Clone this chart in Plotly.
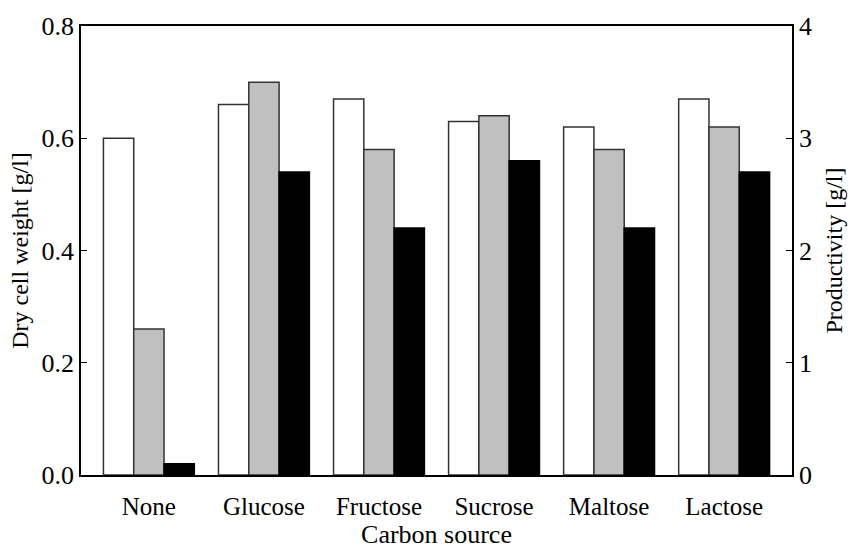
import plotly.graph_objects as go

# Carbon sources tested
categories = ["None", "Glucose", "Fructose", "Sucrose", "Maltose", "Lactose"]

# Dry cell weight [g/l] (left axis)
dry_cell_weight = [0.60, 0.66, 0.67, 0.63, 0.62, 0.67]
# Productivity [g/l] (right axis), two measurements
productivity_a = [1.3, 3.5, 2.9, 3.2, 2.9, 3.1]
productivity_b = [0.1, 2.7, 2.2, 2.8, 2.2, 2.7]

font_family = "Liberation Serif"
edge = "#333333"

fig = go.Figure()
fig.add_trace(go.Bar(x=categories, y=dry_cell_weight, name="Dry cell weight",
                     marker=dict(color="white", line=dict(color=edge, width=1.5)),
                     offsetgroup="a", yaxis="y"))
fig.add_trace(go.Bar(x=categories, y=productivity_a, name="Productivity A",
                     marker=dict(color="#c0c0c0", line=dict(color=edge, width=1.5)),
                     offsetgroup="b", yaxis="y2"))
fig.add_trace(go.Bar(x=categories, y=productivity_b, name="Productivity B",
                     marker=dict(color="black", line=dict(color="black", width=1.5)),
                     offsetgroup="c", yaxis="y2"))

tickfont = dict(family=font_family, size=26, color="black")
titlefont = dict(family=font_family, size=24, color="black")
fig.update_layout(
    width=860, height=552,
    margin=dict(l=81, r=68, t=16, b=77),
    paper_bgcolor="white", plot_bgcolor="white",
    barmode="group", bargap=0.21, bargroupgap=0,
    showlegend=False,
    font=dict(family=font_family, color="black"),
    xaxis=dict(
        range=[-0.59, 5.59], showgrid=False, ticks="",
        tickfont=dict(family=font_family, size=25, color="black"),
        ticklabelstandoff=8,
        title=dict(text="Carbon source", font=dict(family=font_family, size=26, color="black"),
                   standoff=1),
        showline=True, linecolor="black", linewidth=2, mirror=True,
    ),
    yaxis=dict(
        range=[0, 0.8], tickvals=[0, 0.2, 0.4, 0.6, 0.8],
        ticktext=["0.0", "0.2", "0.4", "0.6", "0.8"],
        showgrid=False, zeroline=False, ticks="inside", ticklen=6, tickcolor="black",
        tickfont=tickfont,
        title=dict(text="Dry cell weight [g/l]", font=titlefont, standoff=6),
        showline=True, linecolor="black", linewidth=1.5,
    ),
    yaxis2=dict(
        range=[0, 4], tickvals=[0, 1, 2, 3, 4],
        overlaying="y", side="right",
        showgrid=False, zeroline=False, ticks="inside", ticklen=6, tickcolor="black",
        tickfont=tickfont,
        title=dict(text="Productivity [g/l]", font=titlefont, standoff=14),
        showline=True, linecolor="black", linewidth=1.5,
    ),
)

fig.write_html("out.html")
